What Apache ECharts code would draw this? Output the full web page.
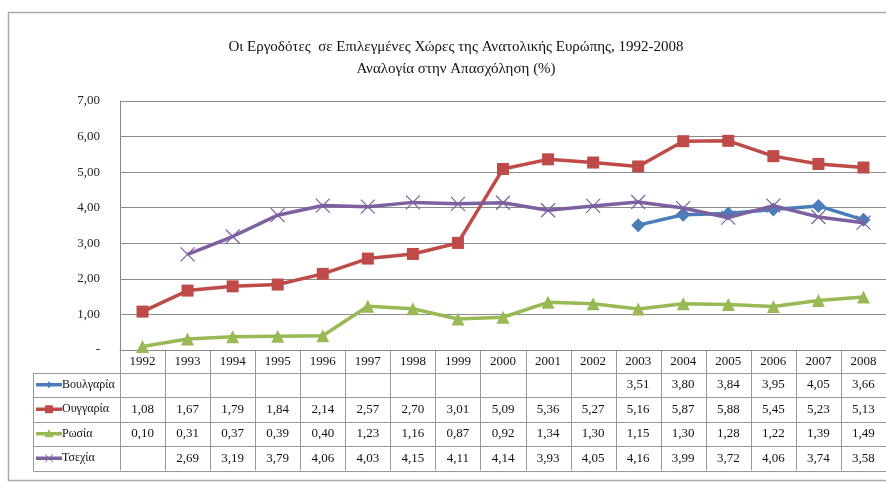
<!DOCTYPE html>
<html><head><meta charset="utf-8">
<script src="https://cdn.jsdelivr.net/npm/echarts@6/dist/echarts.min.js"></script>
<style>html,body{margin:0;padding:0;background:#fff}#c{width:886px;height:485px}</style>
</head><body><div id="c"></div>
<script>
const years = ['1992','1993','1994','1995','1996','1997','1998','1999','2000','2001','2002','2003','2004','2005','2006','2007','2008'];
const bulgaria = [null,null,null,null,null,null,null,null,null,null,null,3.51,3.80,3.84,3.95,4.05,3.66];
const hungary = [1.08,1.67,1.79,1.84,2.14,2.57,2.70,3.01,5.09,5.36,5.27,5.16,5.87,5.88,5.45,5.23,5.13];
const russia = [0.10,0.31,0.37,0.39,0.40,1.23,1.16,0.87,0.92,1.34,1.30,1.15,1.30,1.28,1.22,1.39,1.49];
const czech = [null,2.69,3.19,3.79,4.06,4.03,4.15,4.11,4.14,3.93,4.05,4.16,3.99,3.72,4.06,3.74,3.58];
const seriesNames = ['Βουλγαρία','Ουγγαρία','Ρωσία','Τσεχία'];
const titleLines = ['Οι Εργοδότες  σε Επιλεγμένες Χώρες της Ανατολικής Ευρώπης, 1992-2008','Αναλογία στην Απασχόληση (%)'];

const colors = ['#4A7EBB','#BE4B48','#98B954','#7D60A0'];
const symbols = ['diamond','rect','triangle','path://M0 0L10 10M10 0L0 10'];
const symSizes = [14,12,13,14];
const allData = [bulgaria,hungary,russia,czech];
const FONT = '"Liberation Serif","DejaVu Serif",serif';
const fmt = v => v == null ? '' : v.toFixed(2).replace('.', ',');

const chart = echarts.init(document.getElementById('c'), null, {renderer:'canvas'});
const GL = 120, GT = 101, GB = 135;
chart.setOption({
  animation:false,
  title:{text:titleLines.join('\n'), left:451, textAlign:'center', top:31,
    textStyle:{fontFamily:FONT, fontSize:15, fontWeight:'normal', color:'#111', lineHeight:22}},
  grid:{left:GL, right:0, top:GT, bottom:GB, show:false},
  xAxis:{type:'category', data:years, boundaryGap:true,
    axisLine:{lineStyle:{color:'#888', width:1}}, axisTick:{show:false},
    axisLabel:{fontFamily:FONT, fontSize:13, color:'#111', margin:5}},
  yAxis:{type:'value', min:0, max:7, interval:1,
    axisLine:{show:true, lineStyle:{color:'#888'}}, axisTick:{show:false},
    splitLine:{lineStyle:{color:'#8c8c8c', width:1}},
    axisLabel:{fontFamily:FONT, fontSize:13, color:'#222', margin:20,
      formatter: v => v === 0 ? '-' : v.toFixed(2).replace('.', ',')}},
  series: allData.map((d,i)=>({
    name:seriesNames[i], type:'line', data:d, connectNulls:false,
    symbol:symbols[i], symbolSize:symSizes[i],
    lineStyle:{color:colors[i], width:3.5},
    itemStyle: i===3 ? {color:'none', borderColor:colors[i], borderWidth:1.2} : {color:colors[i], borderWidth:0},
    z: [4,3,2,5][i]
  }))
});

// data table built from arrays
const g = [];
const lineC = '#999';
const xs = years.map((y,i)=>chart.convertToPixel({xAxisIndex:0}, i));
const colW = xs[1]-xs[0];
const y0 = chart.convertToPixel({yAxisIndex:0}, 0);
const headH = 22.5, rowH = 24.5;
const rowTop = y0 + headH;
const tableBottom = rowTop + rowH*4;
const legL = 33;
for (let i=0;i<=years.length;i++){
  const x = Math.round(GL + i*colW)+0.5;
  g.push({type:'line', shape:{x1:x,y1:y0,x2:x,y2:tableBottom}, style:{stroke:lineC, lineWidth:1}, silent:true});
}
g.push({type:'line', shape:{x1:legL+0.5,y1:rowTop,x2:legL+0.5,y2:tableBottom}, style:{stroke:lineC, lineWidth:1}});
for (let r=0;r<=4;r++){
  const y = Math.round(rowTop + r*rowH)+0.5;
  g.push({type:'line', shape:{x1:legL,y1:y,x2:886,y2:y}, style:{stroke:lineC, lineWidth:1}});
}
allData.forEach((d,r)=>{
  const cy = rowTop + r*rowH + rowH/2;
  d.forEach((v,i)=>{
    if (v==null) return;
    g.push({type:'text', x:xs[i], y:cy, style:{text:fmt(v), font:'13px '+FONT, fill:'#111', textAlign:'center', textVerticalAlign:'middle'}});
  });
  g.push({type:'line', shape:{x1:36,y1:cy,x2:62,y2:cy}, style:{stroke:colors[r], lineWidth:3.5}});
  g.push({type:'text', x:62, y:cy, style:{text:seriesNames[r], font:'12px '+FONT, fill:'#111', textAlign:'left', textVerticalAlign:'middle'}});
});
const lc = 49;
[0,1,2,3].forEach(r=>{
  const cy = rowTop + r*rowH + rowH/2;
  if (r===0) g.push({type:'polygon', shape:{points:[[lc,cy-3.5],[lc+3,cy],[lc,cy+3.5],[lc-3,cy]]}, style:{fill:colors[0]}});
  if (r===1) g.push({type:'rect', shape:{x:lc-4,y:cy-4,width:8,height:8}, style:{fill:colors[1]}});
  if (r===2) g.push({type:'polygon', shape:{points:[[lc,cy-4.5],[lc+4.5,cy+3.5],[lc-4.5,cy+3.5]]}, style:{fill:colors[2]}});
  if (r===3) { g.push({type:'line', shape:{x1:lc-4,y1:cy-4,x2:lc+4,y2:cy+4}, style:{stroke:colors[3], lineWidth:1}});
               g.push({type:'line', shape:{x1:lc+4,y1:cy-4,x2:lc-4,y2:cy+4}, style:{stroke:colors[3], lineWidth:1}}); }
});
g.push({type:'rect', shape:{x:8.5,y:12.5,width:900,height:468}, style:{fill:'none', stroke:'#aaa', lineWidth:1.5}, z:-10});
chart.setOption({graphic:g});
</script></body></html>
